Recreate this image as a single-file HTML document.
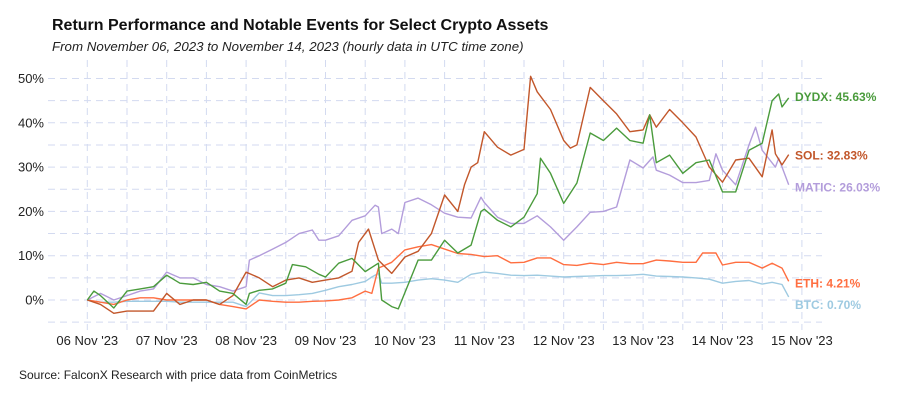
<!DOCTYPE html>
<html><head><meta charset="utf-8">
<style>
html,body{margin:0;padding:0;background:#fff;}
body{width:900px;height:400px;overflow:hidden;font-family:"Liberation Sans",sans-serif;}
svg text{font-family:"Liberation Sans",sans-serif;}
</style></head>
<body>
<svg id="chart" width="900" height="400" viewBox="0 0 900 400" xmlns="http://www.w3.org/2000/svg">
<text x="52" y="30" font-size="16" font-weight="bold" fill="#111">Return Performance and Notable Events for Select Crypto Assets</text>
<text x="52" y="51" font-size="13.3" font-style="italic" fill="#222">From November 06, 2023 to November 14, 2023 (hourly data in UTC time zone)</text>
<g id="grid"></g>
<g id="yaxis"></g>
<g id="xaxis"></g>
<g id="series"></g>
<g id="labels"></g>
<text x="19" y="379" font-size="12" fill="#222">Source: FalconX Research with price data from CoinMetrics</text>
</svg>
<script>
const xTickLabels = ["06 Nov '23","07 Nov '23","08 Nov '23","09 Nov '23","10 Nov '23","11 Nov '23","12 Nov '23","13 Nov '23","14 Nov '23","15 Nov '23"];
const yTicks = [0,10,20,30,40,50];
const seriesNames = ["BTC","ETH","MATIC","SOL","DYDX"];
const btcHours = [0,4,8,12,16,20,24,28,32,36,40,44,48,52,56,60,64,68,72,76,80,84,86,88,89,92,96,100,104,108,112,116,120,124,128,132,136,140,144,148,152,156,160,164,168,172,176,180,184,188,192,196,200,204,207,210,212];
const btcValues = [0,-0.5,-0.5,-0.3,-0.3,-0.3,-0.3,-0.5,-0.5,-0.5,-0.5,-0.5,-1.5,1.6,1,1,1.2,1.5,2.2,3,3.5,4.2,5.2,6,3.8,3.8,4,4.5,4.8,4.5,4,5.8,6.3,6,5.6,5.5,5.6,5.4,5.2,5.3,5.4,5.5,5.5,5.6,5.8,5.4,5.3,5.2,5,4.7,3.8,4.2,4.4,3.6,4,3.5,0.7];
const ethHours = [0,4,8,12,16,20,24,28,32,36,40,44,48,52,56,60,64,68,72,76,80,84,86,88,92,96,100,104,108,112,116,120,124,128,132,136,140,144,148,152,156,160,164,168,172,176,180,184,186,190,192,196,200,204,207,210,212];
const ethValues = [0,-0.5,-1,0,0.5,0.5,0,0,0,0,-1,-1.5,-2,0,-0.3,-0.5,-0.5,-0.3,-0.2,0,0.5,2,1.5,7.2,8.5,11.3,12,12.5,11.5,10.5,10.3,9.8,10,8.4,8.5,9.5,9.5,8,7.8,8.3,8,8.5,8.2,8.2,9,8.8,8.5,8.5,10.6,10.6,7.9,8.5,8.5,7.2,8.3,7.2,4.21];
const maticHours = [0,4,8,12,16,20,24,28,32,36,40,44,48,49,52,56,60,64,68,70,72,76,80,84,87,88,89,92,94,96,100,104,108,112,116,119,120,124,128,132,136,140,144,148,152,156,160,164,168,171,172,176,180,184,188,190,192,196,200,202,204,208,209,212];
const maticValues = [0,1.5,0,1,2,2.5,6.3,5,5,3.5,3,2,3,9,10,11.5,13,15,15.8,13.5,13.5,14.5,18,19,21.4,21,15,16,15,22,23,21.5,19.6,18.7,18.5,23.2,22,18.7,17.3,17.3,19,16.5,13.5,16.5,19.8,20,21,31.6,29.8,32.3,29.3,28.2,26.5,26.5,27,33,29.3,26,35,39,33.8,30,32,26.03];
const solHours = [0,4,8,12,16,20,24,28,32,36,40,44,48,52,56,60,64,68,72,76,80,82,85,88,92,96,100,104,108,112,114,116,118,120,124,128,132,134,136,140,144,146,148,152,156,160,164,168,170,172,176,180,184,188,192,196,200,204,207,208,210,212];
const solValues = [0,-1,-3,-2.5,-2.5,-2.5,1.5,-1,0,0,-1,1,6.3,5,3,4.5,5,4,4.5,5,6.5,13,16,9,6,9.7,11,15,23.7,20,26,30,31,38,34.5,32.7,34,50.5,47,43,36,34.3,35,48,45,42,38,38.4,41.8,39,43,40,36.8,30,26.6,31.6,32,27.8,38.4,33,30.5,32.83];
const dydxHours = [0,2,4,8,12,16,20,24,28,32,36,40,44,48,49,52,56,60,62,66,70,72,76,80,84,88,89,92,94,100,104,108,112,116,119,120,124,128,132,136,137,140,144,148,152,156,160,164,168,170,172,176,180,184,188,192,196,200,204,207,209,210,212];
const dydxValues = [0,2,1,-1.8,2,2.5,3,5.6,3.8,3.5,4,2,1.5,-1,1.5,2.2,2.5,3.8,8,7.5,5.8,5.2,8.3,9.4,6.4,8.3,0,-1.5,-2,9,9,13.5,10.6,12.4,20,20.5,18,16.5,18.7,24,32,28.6,21.8,26.4,37.7,36,38.8,36,35.4,41.8,31,32.7,28.6,31,31.6,24.4,24.4,33.8,35.4,45,46.5,43.6,45.63];

const NS="http://www.w3.org/2000/svg";
const X0=87.3, DAY=79.4, Y0=300, PER10=44.3;
function xScale(h){return X0+DAY*h/24;}
function yScale(v){return Y0-v*PER10/10;}
function mk(tag,attrs,parent){const e=document.createElementNS(NS,tag);for(const k in attrs)e.setAttribute(k,attrs[k]);parent.appendChild(e);return e;}
const grid=document.getElementById('grid'), yaxis=document.getElementById('yaxis'), xaxis=document.getElementById('xaxis');
const gridColor="#d3daf0";
for(let v=-5; v<=50; v+=5){
  const l=mk('line',{x1:48,x2:822,y1:yScale(v),y2:yScale(v),stroke:gridColor,'stroke-width':1,'stroke-dasharray':'7,5'},grid);
  
  
}
for(let i=0;i<xTickLabels.length*2-1;i++){
  const x=xScale(i*12);
  const l=mk('line',{x1:x,x2:x,y1:60,y2:330,stroke:gridColor,'stroke-width':1,'stroke-dasharray':'7,5'},grid);
  
  
}
yTicks.forEach(v=>{
  const t=mk('text',{x:44,y:yScale(v)+4.5,'text-anchor':'end','font-size':13,fill:'#222'},yaxis);
  t.textContent=v+'%';
  
  
});
xTickLabels.forEach((s,i)=>{
  const t=mk('text',{x:xScale(i*24),y:345,'text-anchor':'middle','font-size':13,fill:'#222'},xaxis);
  t.textContent=s;
  
  
});
const seriesData={BTC:[btcHours,btcValues],ETH:[ethHours,ethValues],MATIC:[maticHours,maticValues],SOL:[solHours,solValues],DYDX:[dydxHours,dydxValues]};
const colors={BTC:"#9ecae1",ETH:"#ff6e40",MATIC:"#b39ddb",SOL:"#c2572b",DYDX:"#4a9b3c"};
const labelOffsets={BTC:8,ETH:2,MATIC:3,SOL:1,DYDX:-1};
const sg=document.getElementById('series'), lg=document.getElementById('labels');
seriesNames.forEach(n=>{
  const [hs,vs]=seriesData[n];
  const d=hs.map((h,i)=>(i?'L':'M')+xScale(h).toFixed(1)+','+yScale(vs[i]).toFixed(1)).join(' ');
  const p=mk('path',{d:d,fill:'none',stroke:colors[n],'stroke-width':1.4,'stroke-linejoin':'round'},sg);
  
  
  const last=vs[vs.length-1];
  const t=mk('text',{x:795,y:yScale(last)+4+labelOffsets[n],'font-size':12,'font-weight':'bold',fill:colors[n]},lg);
  t.textContent=n+': '+last.toFixed(2)+'%';
  
  
});
</script>
</body></html>
